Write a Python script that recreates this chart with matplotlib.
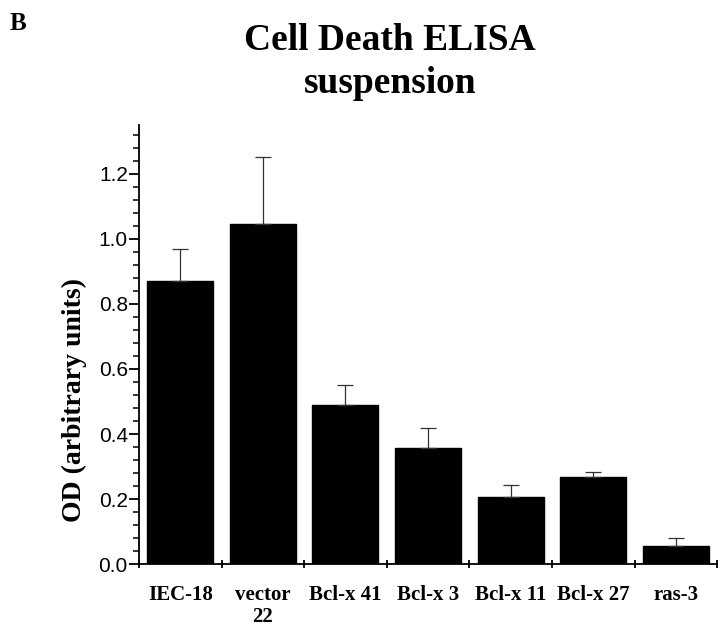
import matplotlib.pyplot as plt
import numpy as np
from matplotlib.ticker import MultipleLocator

labels = ['IEC-18', 'vector\n22', 'Bcl-x 41', 'Bcl-x 3', 'Bcl-x 11', 'Bcl-x 27', 'ras-3']
od = [0.871, 1.046, 0.49, 0.356, 0.206, 0.267, 0.055]
err = [0.098, 0.205, 0.06, 0.064, 0.036, 0.015, 0.025]

fig = plt.figure(figsize=(7.2, 6.26), dpi=100)
ax = fig.add_axes([0.193, 0.099, 0.803, 0.701])

x = np.arange(len(od))
ax.bar(x, od, width=0.8, color='black', edgecolor='black')
ax.errorbar(x, od, yerr=[np.zeros(len(err)), err], fmt='none', ecolor='#333333',
            elinewidth=0.9, capsize=6, capthick=0.9)

ax.set_xlim(-0.5, len(od) - 0.5)
ax.set_ylim(0, 1.35)
ax.spines['top'].set_visible(False)
ax.spines['right'].set_visible(False)
ax.spines['left'].set_linewidth(1.3)
ax.spines['bottom'].set_linewidth(1.3)

# ticks between categories on x, labels centered under bars
ax.set_xticks(np.arange(len(od) + 1) - 0.5)
ax.set_xticklabels([])
ax.set_xticks(x, minor=True)
ax.set_xticklabels(labels, minor=True, fontfamily='Liberation Serif',
                   fontweight='bold', fontsize=15, linespacing=1.15)
ax.tick_params(axis='x', which='major', direction='inout', length=6, width=1.3)
ax.tick_params(axis='x', which='minor', length=0, pad=15)

ax.yaxis.set_major_locator(MultipleLocator(0.2))
ax.yaxis.set_minor_locator(MultipleLocator(0.04))
ax.set_yticks(np.arange(0, 1.25, 0.2))
ax.set_yticklabels(['%.1f' % v for v in np.arange(0, 1.25, 0.2)],
                   fontfamily='Liberation Sans', fontsize=15)
ax.tick_params(axis='y', which='major', direction='out', length=7, width=1.3, pad=1)
ax.tick_params(axis='y', which='minor', direction='out', length=4, width=1.1)

fig.text(0.103, 0.361, 'OD (arbitrary units)', rotation=90, ha='center', va='center',
         fontfamily='Liberation Serif', fontweight='bold', fontsize=20)

fig.text(0.542, 0.920, 'Cell Death ELISA', ha='center', va='baseline',
         fontfamily='Liberation Serif', fontweight='bold', fontsize=27)
fig.text(0.542, 0.852, 'suspension', ha='center', va='baseline',
         fontfamily='Liberation Serif', fontweight='bold', fontsize=27)
fig.text(0.013, 0.952, 'B', ha='left', va='baseline', fontfamily='Liberation Serif',
         fontweight='bold', fontsize=18)

fig.savefig('out.png', dpi=100)
